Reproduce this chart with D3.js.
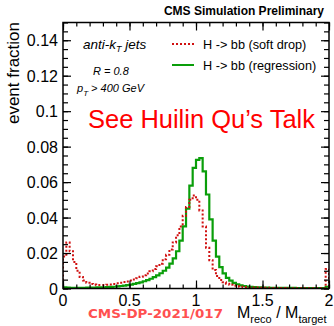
<!DOCTYPE html>
<html>
<head>
<meta charset="utf-8">
<script src="https://cdn.jsdelivr.net/npm/d3@7"></script>
<style>
  body { margin: 0; background: #fff; }
  svg { display: block; font-family: "Liberation Sans", Arial, sans-serif; }
</style>
</head>
<body>
<div id="chart"></div>
<script>
// ---- data (bin width 0.025 from 0 to 2) ----
const binLow = 0, binWidth = 0.025;
const softDrop = [
  0.018, 0.026, 0.021, 0.015, 0.010, 0.0065, 0.0045, 0.0032, 0.0026, 0.0022,
  0.002, 0.002, 0.002, 0.0021, 0.0023, 0.0026, 0.0029, 0.0032, 0.0036, 0.0040,
  0.0045, 0.0051, 0.0058, 0.0066, 0.0075, 0.0085, 0.0097, 0.011, 0.0125, 0.014,
  0.0165, 0.019, 0.022, 0.026, 0.030, 0.035, 0.041, 0.046, 0.050, 0.0525,
  0.050, 0.044, 0.035, 0.023, 0.016, 0.0105, 0.007, 0.0048, 0.0035, 0.0027,
  0.0021, 0.0016, 0.0012, 0.001, 0.0008, 0.0007, 0.0006, 0.0005, 0.0005, 0.0004,
  0.0004, 0.0004, 0.0003, 0.0003, 0.0003, 0.0003, 0.0003, 0.0002, 0.0002, 0.0002,
  0.0002, 0.0002, 0.0002, 0.0002, 0.0002, 0.0002, 0.0002, 0.0002, 0.0002, 0.011
];
const regression = [
  0.0006, 0.0005, 0.0004, 0.0004, 0.0004, 0.0004, 0.0004, 0.0005, 0.0005, 0.0005,
  0.0006, 0.0006, 0.0007, 0.0008, 0.0009, 0.001, 0.0012, 0.0014, 0.0016, 0.0019,
  0.0022, 0.0026, 0.003, 0.0035, 0.0041, 0.0047, 0.0055, 0.0064, 0.0074, 0.0086,
  0.010, 0.0118, 0.014, 0.017, 0.021, 0.027, 0.035, 0.045, 0.058, 0.068,
  0.0725, 0.0735, 0.066, 0.053, 0.039, 0.027, 0.018, 0.012, 0.0085, 0.006,
  0.0044, 0.0032, 0.0024, 0.0018, 0.0014, 0.0011, 0.0009, 0.0008, 0.0007, 0.0006,
  0.0005, 0.0005, 0.0004, 0.0004, 0.0004, 0.0003, 0.0003, 0.0003, 0.0003, 0.0003,
  0.0002, 0.0002, 0.0002, 0.0002, 0.0002, 0.0002, 0.0002, 0.0002, 0.0002, 0.001
];
const xTicks = [0, 0.5, 1, 1.5, 2];
const xTickLabels = ["0", "0.5", "1", "1.5", "2"];
const yTicks = [0, 0.02, 0.04, 0.06, 0.08, 0.1, 0.12, 0.14];
const yTickLabels = ["0", "0.02", "0.04", "0.06", "0.08", "0.1", "0.12", "0.14"];
const legendNames = ["H -> bb (soft drop)", "H -> bb (regression)"];

// ---- layout ----
const W = 334, H = 326;
const plotL = 63, plotR = 329, plotT = 22.5, plotB = 288.5;

const svg = d3.select('#chart').append('svg')
  .attr('width', W).attr('height', H);

const x = d3.scaleLinear().domain([0, 2]).range([plotL, plotR]);
const y = d3.scaleLinear().domain([0, 0.15]).range([plotB, plotT]);

svg.append('defs').append('clipPath').attr('id', 'plot')
  .append('rect').attr('x', plotL).attr('y', plotT)
  .attr('width', plotR - plotL).attr('height', plotB - plotT);

// histogram as step outline
function stepPoints(vals) {
  const pts = [[binLow, 0]];
  vals.forEach((v, i) => {
    pts.push([binLow + i * binWidth, v]);
    pts.push([binLow + (i + 1) * binWidth, v]);
  });
  pts.push([binLow + vals.length * binWidth, 0]);
  return pts;
}
const line = d3.line().x(d => x(d[0])).y(d => y(d[1]));

const plot = svg.append('g').attr('clip-path', 'url(#plot)');
plot.append('path').attr('d', line(stepPoints(regression)))
  .attr('fill', 'none').attr('stroke', '#0a9e0a').attr('stroke-width', 2.2);
plot.append('path').attr('d', line(stepPoints(softDrop)))
  .attr('fill', 'none').attr('stroke', '#d01010').attr('stroke-width', 2)
  .attr('stroke-dasharray', '2,2');

// ---- axes: ROOT style ticks inside on all sides ----
const xMinor = d3.range(0, 2.0001, 0.1);
const yMinor = d3.range(0, 0.15001, 0.005);

function noLabel(g) { g.selectAll('text').remove(); g.select('.domain').remove(); }

svg.append('g').attr('transform', `translate(0,${plotB})`)
  .call(d3.axisBottom(x).tickValues(xMinor).tickSize(-4).tickFormat('')).call(noLabel);
svg.append('g').attr('transform', `translate(0,${plotB})`)
  .call(d3.axisBottom(x).tickValues(xTicks).tickSize(-8).tickFormat('')).call(noLabel);
svg.append('g').attr('transform', `translate(0,${plotT})`)
  .call(d3.axisTop(x).tickValues(xMinor).tickSize(-4).tickFormat('')).call(noLabel);
svg.append('g').attr('transform', `translate(0,${plotT})`)
  .call(d3.axisTop(x).tickValues(xTicks).tickSize(-8).tickFormat('')).call(noLabel);

svg.append('g').attr('transform', `translate(${plotL},0)`)
  .call(d3.axisLeft(y).tickValues(yMinor).tickSize(-5).tickFormat('')).call(noLabel);
svg.append('g').attr('transform', `translate(${plotL},0)`)
  .call(d3.axisLeft(y).tickValues(yTicks).tickSize(-8).tickFormat('')).call(noLabel);
svg.append('g').attr('transform', `translate(${plotR},0)`)
  .call(d3.axisRight(y).tickValues(yMinor).tickSize(-5).tickFormat('')).call(noLabel);
svg.append('g').attr('transform', `translate(${plotR},0)`)
  .call(d3.axisRight(y).tickValues(yTicks).tickSize(-8).tickFormat('')).call(noLabel);

svg.selectAll('.tick line').attr('stroke', '#000').attr('stroke-width', 1.2);

// frame
svg.append('rect').attr('x', plotL).attr('y', plotT)
  .attr('width', plotR - plotL).attr('height', plotB - plotT)
  .attr('fill', 'none').attr('stroke', '#000').attr('stroke-width', 1.5);

// tick labels
svg.append('g').selectAll('text').data(yTicks).join('text')
  .attr('x', plotL - 5).attr('y', d => y(d) + 6)
  .attr('text-anchor', 'end').attr('font-size', 16)
  .text((d, i) => yTickLabels[i]);
svg.append('g').selectAll('text').data(xTicks).join('text')
  .attr('x', d => x(d)).attr('y', 305.5)
  .attr('text-anchor', 'middle').attr('font-size', 16)
  .text((d, i) => xTickLabels[i]);

// axis titles
svg.append('text').attr('transform', 'translate(19,22) rotate(-90)')
  .attr('text-anchor', 'end').attr('font-size', 17).text('event fraction');

const xt = svg.append('text').attr('x', 237).attr('y', 318).attr('font-size', 16);
xt.append('tspan').text('M');
xt.append('tspan').attr('font-size', 11).attr('dy', 5).text('reco');
xt.append('tspan').attr('dy', -5).text(' / M');
xt.append('tspan').attr('font-size', 11).attr('dy', 5).text('target');

// header
svg.append('text').attr('x', 324).attr('y', 15).attr('text-anchor', 'end')
  .attr('font-size', 12).attr('font-weight', 'bold').text('CMS Simulation Preliminary');

// annotations
const a1 = svg.append('text').attr('x', 83).attr('y', 49)
  .attr('font-size', 13.5).attr('font-style', 'italic');
a1.append('tspan').text('anti-k');
a1.append('tspan').attr('font-size', 9).attr('dy', 3).text('T');
a1.append('tspan').attr('dy', -3).text(' jets');

svg.append('text').attr('x', 93).attr('y', 75)
  .attr('font-size', 11).attr('font-style', 'italic').text('R = 0.8');

const a3 = svg.append('text').attr('x', 77).attr('y', 92)
  .attr('font-size', 11).attr('font-style', 'italic');
a3.append('tspan').text('p');
a3.append('tspan').attr('font-size', 8).attr('dy', 4).text('T');
a3.append('tspan').attr('dy', -4).text(' > 400 GeV');

// legend
const legendStyle = [
  { stroke: '#d01010', dash: '2,2', y: 44 },
  { stroke: '#0a9e0a', dash: null, y: 65 }
];
legendNames.forEach((name, i) => {
  const s = legendStyle[i];
  svg.append('line').attr('x1', 172).attr('x2', 194)
    .attr('y1', s.y).attr('y2', s.y)
    .attr('stroke', s.stroke).attr('stroke-width', 2)
    .attr('stroke-dasharray', s.dash);
  svg.append('text').attr('x', 203).attr('y', s.y + 4.5)
    .attr('font-size', 12.7).text(name);
});

// overlay texts
svg.append('text').attr('x', 88).attr('y', 128)
  .attr('font-size', 25).attr('fill', '#ff0000')
  .attr('textLength', 227).attr('lengthAdjust', 'spacingAndGlyphs')
  .text('See Huilin Qu\u2019s Talk');

svg.append('text').attr('x', 88).attr('y', 318)
  .attr('font-size', 12).attr('font-weight', 'bold')
  .attr('font-family', 'DejaVu Sans').attr('fill', '#ff5050')
  .attr('textLength', 135).attr('lengthAdjust', 'spacingAndGlyphs')
  .text('CMS-DP-2021/017');
</script>
</body>
</html>
